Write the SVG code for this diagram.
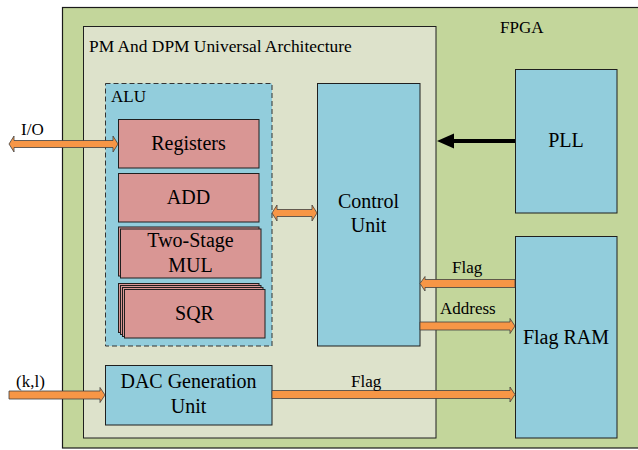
<svg xmlns="http://www.w3.org/2000/svg" width="638" height="450" viewBox="0 0 638 450" font-family="'Liberation Serif', 'DejaVu Serif', serif">
<style>
text{font-family:'Liberation Serif','DejaVu Serif',serif;fill:#000}
.big{font-size:20px;text-anchor:middle}
.lbl{font-size:17px}
.blue{fill:#92CDDC;stroke:#1f1f1f;stroke-width:1}
.pink{fill:#D99694;stroke:#1f1f1f;stroke-width:1}
.org{fill:#F79646;stroke:#404040;stroke-width:0.8}
</style>
<rect width="638" height="450" fill="#fff"/>
<g id="fpga">
<rect x="62.5" y="7.5" width="580" height="440.5" fill="#C3D69B" stroke="#1a1a1a" stroke-width="1.2"/>
<text class="lbl" x="500" y="33">FPGA</text>
</g>
<g id="pm-dpm">
<rect x="83.5" y="26.5" width="352.5" height="411.5" fill="#DDE2CB" stroke="#1f1f1f" stroke-width="1"/>
<text class="lbl" x="89" y="52" style="font-size:17.4px">PM And DPM Universal Architecture</text>
</g>
<g id="alu">
<rect x="105.5" y="83.5" width="166.5" height="262.5" fill="#92CDDC" stroke="#333" stroke-width="1" stroke-dasharray="5,3"/>
<text class="lbl" x="111" y="102">ALU</text>
</g>
<g id="registers">
<rect class="pink" x="118.5" y="119.5" width="140.5" height="48.5"/>
<text class="big" x="188.5" y="150">Registers</text>
</g>
<g id="add">
<rect class="pink" x="118.5" y="173.5" width="140.5" height="48.5"/>
<text class="big" x="188.5" y="204">ADD</text>
</g>
<g id="mul">
<rect class="pink" x="118.5" y="227" width="140.5" height="49"/>
<rect class="pink" x="120.5" y="229" width="140.5" height="49"/>
<text class="big" x="190.5" y="247">Two-Stage</text>
<text class="big" x="190.5" y="272">MUL</text>
</g>
<g id="sqr">
<rect class="pink" x="118.5" y="283.5" width="140.5" height="49"/>
<rect class="pink" x="120.5" y="285.5" width="140.5" height="49"/>
<rect class="pink" x="122.5" y="287.5" width="140.5" height="49"/>
<rect class="pink" x="124.5" y="289.5" width="140.5" height="48.5"/>
<text class="big" x="194.5" y="320">SQR</text>
</g>
<g id="control-unit">
<rect class="blue" x="317.5" y="83.5" width="102.5" height="262.5"/>
<text class="big" x="368.5" y="208">Control</text>
<text class="big" x="368.5" y="232">Unit</text>
</g>
<g id="pll">
<rect class="blue" x="515.5" y="69.5" width="101.5" height="143.5"/>
<text class="big" x="566" y="147">PLL</text>
</g>
<g id="flag-ram">
<rect class="blue" x="515.5" y="236.5" width="101.5" height="201.5"/>
<text class="big" x="566" y="344">Flag RAM</text>
</g>
<g id="dac">
<rect class="blue" x="105.5" y="365.5" width="166.5" height="59.5"/>
<text class="big" x="188.5" y="388">DAC Generation</text>
<text class="big" x="188.5" y="413">Unit</text>
</g>
<g id="connectors">
<line x1="515" y1="141" x2="452" y2="141" stroke="#000" stroke-width="4"/>
<polygon points="437,141 454,133.5 454,148.5" fill="#000"/>
<polygon class="org" points="9,144 14,136 14,140.5 113,140.5 113,136 118,144 113,152 113,147.5 14,147.5 14,152"/>
<text class="lbl" x="21" y="135">I/O</text>
<polygon class="org" points="272,213 277,205 277,209.5 312,209.5 312,205 317,213 312,221 312,216.5 277,216.5 277,221"/>
<polygon class="org" points="420,283.5 425,276.5 425,279.5 515,279.5 515,287.5 425,287.5 425,291"/>
<text class="lbl" x="452" y="273">Flag</text>
<polygon class="org" points="420,322 510,322 510,318.5 515,326 510,333.5 510,330 420,330"/>
<text class="lbl" x="440" y="314">Address</text>
<polygon class="org" points="272,390.5 510,390.5 510,387 515,394.5 510,402 510,398.5 272,398.5"/>
<text class="lbl" x="351" y="387">Flag</text>
<polygon class="org" points="9,391 100,391 100,387.5 105,395 100,402.5 100,399 9,399"/>
<text class="lbl" x="16" y="387">(k,l)</text>
</g>
</svg>
